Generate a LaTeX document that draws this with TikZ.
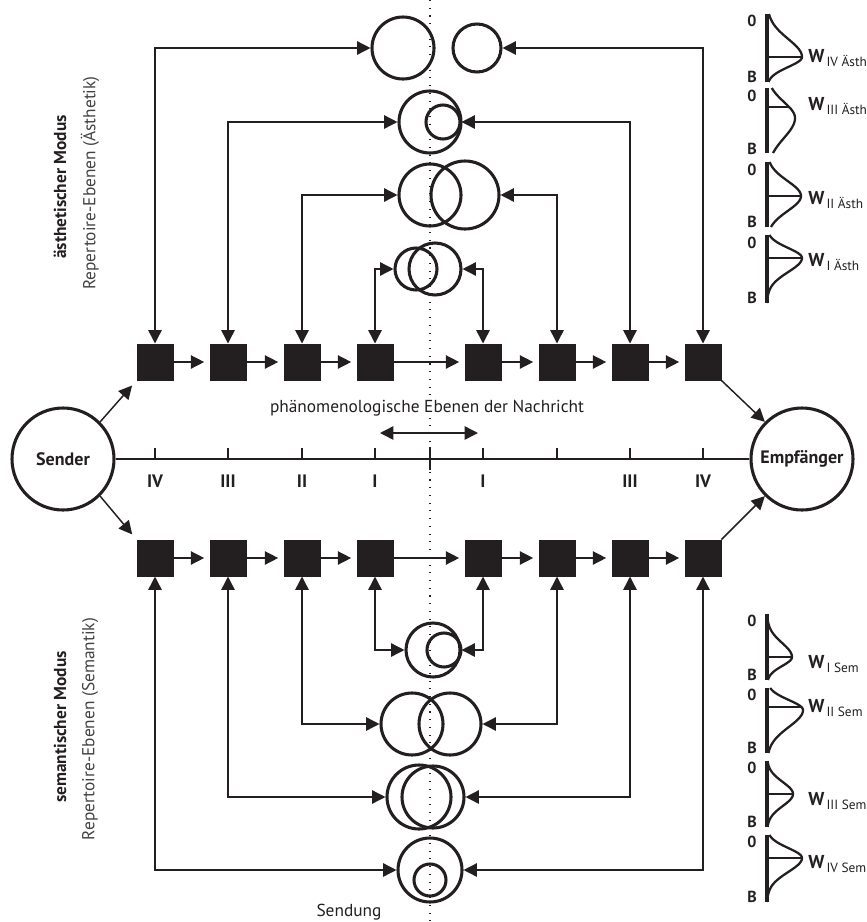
\documentclass[tikz,border=0pt]{standalone}
\usepackage{fontspec}
\setmainfont{PT Sans}
\usetikzlibrary{arrows.meta,calc}
\definecolor{ink}{RGB}{35,31,32}
\newcommand{\myBell}[8]{% top, bottom, mu, A, su, sl, liney, lineendx
  \draw[ink, line width=1.7pt] plot[domain=#1:#3, samples=40, smooth] ({767+#4*exp(-0.5*((\x-#3)/#5)*((\x-#3)/#5))},\x)
     -- plot[domain=#3:#2, samples=40, smooth] ({767+#4*exp(-0.5*((\x-#3)/#6)*((\x-#3)/#6))},\x);
  \draw[ink, line width=1.1pt] (767,#7) -- (#8,#7);
  \draw[ink, line width=2.6pt] (767,#1) -- (767,#2);
}
\begin{document}
\begin{tikzpicture}[x=0.75pt,y=-0.75pt,
  font=\fontsize{13}{15}\selectfont,
  sq/.style={fill=ink, draw=none, minimum size=27.75pt, inner sep=0pt, outer sep=0pt},
  ring/.style={circle, draw=ink, line width=2.3pt, inner sep=0pt},
  tipA/.tip={Triangle[length=10pt,width=10pt]},
  conn/.style={draw=ink, line width=1.1pt, tipA-tipA},
  arr/.style={draw=ink, line width=1.1pt, -tipA},
  lab/.style={text=ink, inner sep=0pt},
  wlab/.style={text=ink, inner sep=0pt, anchor=west},
  ob/.style={text=ink, inner sep=0pt, font=\fontsize{12}{13}\selectfont\bfseries}
]
\useasboundingbox (0,0) rectangle (867,922);

% dotted centre line
\draw[ink, line width=0.9pt, dash pattern=on 0.8pt off 5pt] (430,0) -- (430,922);

% sender / receiver
\node[ring, minimum size=76.5pt, font=\fontsize{13.5}{15}\selectfont\bfseries, text=ink] (sender) at (63,459) {Sender};
\node[ring, minimum size=76.5pt, font=\fontsize{13.5}{15}\selectfont\bfseries, text=ink] (empf) at (802,459) {Empfänger};

% axis
\draw[ink, line width=1.5pt] (sender) -- (empf);
\foreach \x in {155,228,302,375,483,557,630,703} \draw[ink, line width=1.5pt] (\x,448) -- (\x,459);
\draw[ink, line width=1.5pt] (430,447) -- (430,470);
\foreach \x/\t in {155/IV,228/III,302/II,375/I,483/I,630/III,703/IV}
  \node[lab, font=\fontsize{13.5}{15}\selectfont\bfseries] at (\x,481) {\t};

% phenomenological label and double arrow
\node[lab, fill=white, inner sep=1pt] (phaen) at (427,408) {phänomenologische Ebenen der Nachricht};
\coordinate (dl) at (380,433);
\coordinate (dr) at (478,433);
\draw[conn] (dl) -- (dr);

% squares
\foreach \i/\x in {1/155,2/228,3/302,4/375,5/483,6/557,7/630,8/703} {
  \node[sq] (t\i) at (\x,362) {};
  \node[sq] (b\i) at (\x,558) {};
}
\foreach \i/\j in {1/2,2/3,3/4,4/5,5/6,6/7,7/8} {
  \draw[arr, shorten >=4pt] (t\i) -- (t\j);
  \draw[arr, shorten >=4pt] (b\i) -- (b\j);
}

% sender/receiver connectors
\draw[arr, shorten >=5pt] (sender.45) -- (t1.south west);
\draw[arr, shorten >=5pt] (sender.-45) -- (b1.north west);
\draw[arr] (t8.south east) -- (empf.135);
\draw[arr] (b8.north east) -- (empf.-135);

% top circles (aesthetic)
\node[ring, minimum size=46.5pt] (a4l) at (403,48) {};
\node[ring, minimum size=36pt] (a4r) at (477,48) {};
\node[ring, minimum size=46.5pt] (a3b) at (430,122) {};
\node[ring, minimum size=25.5pt] (a3s) at (443,122) {};
\node[ring, minimum size=46.5pt] (a2l) at (430,195) {};
\node[ring, minimum size=51pt] (a2r) at (465,195) {};
\node[ring, minimum size=31.5pt] (a1l) at (416,269) {};
\node[ring, minimum size=39pt] (a1r) at (435,269) {};

\draw[conn] (t1.north) |- (a4l.west);
\draw[conn] (t8.north) |- (a4r.east);
\draw[conn] (t2.north) |- (a3b.west);
\draw[conn] (t7.north) |- (a3s.east);
\draw[conn] (t3.north) |- (a2l.west);
\draw[conn] (t6.north) |- (a2r.east);
\draw[conn] (t4.north) |- (a1l.west);
\draw[conn] (t5.north) |- (a1r.east);

% bottom circles (semantic)
\node[ring, minimum size=40.5pt] (s1b) at (433,650) {};
\node[ring, minimum size=25.5pt] (s1s) at (444,650) {};
\node[ring, minimum size=46.5pt] (s2l) at (412,724) {};
\node[ring, minimum size=46.5pt] (s2r) at (450,724) {};
\node[ring, minimum size=48pt] (s3l) at (419,797) {};
\node[ring, minimum size=46.5pt] (s3r) at (433,797) {};
\node[ring, minimum size=48pt] (s4b) at (430,870) {};
\node[ring, minimum size=24pt] (s4s) at (430,880) {};

\draw[conn] (b4.south) |- (s1b.west);
\draw[conn] (b5.south) |- (s1b.east);
\draw[conn] (b3.south) |- (s2l.west);
\draw[conn] (b6.south) |- (s2r.east);
\draw[conn] (b2.south) |- (s3l.west);
\draw[conn] (b7.south) |- (s3r.east);
\draw[conn] (b1.south) |- (s4b.west);
\draw[conn] (b8.south) |- (s4b.east);

\node[lab] (sendung) at (349,912) {Sendung};

% left rotated titles
\node[lab, rotate=90, font=\fontsize{13}{15}\selectfont\bfseries] (aemod) at (60,187) {ästhetischer Modus};
\node[lab, rotate=90, text=ink!85] (aerep) at (90,183) {Repertoire-Ebenen (Ästhetik)};
\node[lab, rotate=90, font=\fontsize{13}{15}\selectfont\bfseries] (semod) at (60,727) {semantischer Modus};
\node[lab, rotate=90, text=ink!85] (serep) at (90,729) {Repertoire-Ebenen (Semantik)};

% distributions aesthetic
\myBell{14}{82}{57}{35}{18}{10}{57}{802}
\myBell{88}{153}{118}{28}{16}{20}{107}{789}
\myBell{162}{227}{196}{34}{15}{15}{196}{801}
\myBell{235}{303}{258}{35}{10}{14}{258}{802}
% distributions semantic
\myBell{614}{680}{657}{25}{14}{9}{657}{792}
\myBell{688}{753}{710}{36}{10}{17}{707}{801}
\myBell{761}{827}{794}{26}{12}{12}{794}{793}
\myBell{835}{902}{858}{35}{10}{14}{858}{802}

\foreach \y in {21,96,170,243,621,695,768,842} \node[ob] at (752,\y) {0};
\foreach \y in {77,149,222,298,675,748,822,897} \node[ob] at (752,\y) {B};

\newcommand{\wl}[1]{{\fontsize{14}{15}\selectfont\bfseries W}\raisebox{-0.45ex}{\fontsize{10}{11}\selectfont\,#1}}
\node[wlab] at (808,58) {\wl{IV Ästh}};
\node[wlab] at (808,106) {\wl{III Ästh}};
\node[wlab] at (808,200) {\wl{II Ästh}};
\node[wlab] at (808,262) {\wl{I Ästh}};
\node[wlab] at (808,664) {\wl{I Sem}};
\node[wlab] at (808,708) {\wl{II Sem}};
\node[wlab] at (808,801) {\wl{III Sem}};
\node[wlab] at (808,864) {\wl{IV Sem}};
\end{tikzpicture}
\end{document}
